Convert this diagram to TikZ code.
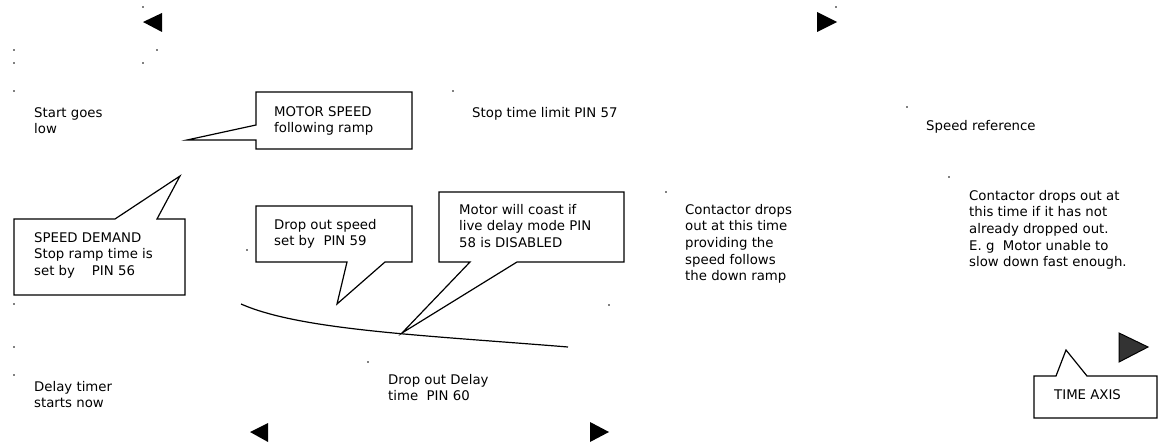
\documentclass[tikz,border=0pt]{standalone}
\usepackage{fontspec}
\setmainfont{DejaVu Sans}
\usepackage{tikz}
\usetikzlibrary{positioning}

\begin{document}
\begin{tikzpicture}[x=1pt, y=-1pt,
    lbl/.style={anchor=north west, inner sep=0pt, align=left, font=\fontsize{13.3}{16.6}\selectfont},
    callout/.style={draw, line width=1.2pt, fill=white, line join=miter},
    marker/.style={fill=black},
    speck/.style={fill=black, draw=none}]
  \useasboundingbox (0,0) rectangle (1158,443);

  \foreach \px/\py in {143/7, 14/50, 14/63, 157/50, 143/63, 14/91, 453/91, 836/7, 907/107,
                       949/177, 14/304, 14/347, 14/375, 247/250, 666/192, 609/305, 368/362}
    \fill[speck] (\px,\py) circle (0.9);

  \fill[marker] (143,22) -- (162,13) -- (162,32) -- cycle;
  \fill[marker] (837,22) -- (817,12) -- (817,32) -- cycle;
  \fill[marker] (250,432) -- (268,423) -- (268,442) -- cycle;
  \fill[marker] (609,432) -- (590,422) -- (590,442) -- cycle;
  \filldraw[fill=black!80, draw=black, line width=1pt] (1148,347) -- (1119,333) -- (1119,362) -- cycle;

  \draw[line width=1.2pt] (241,304) .. controls (300,330) and (420,335) .. (568,347);

  \draw[callout] (256,92) -- (412,92) -- (412,149) -- (256,149) -- (256,140) -- (187,140) -- (256,125) -- cycle;
  \draw[callout] (14,219) -- (115,219) -- (180,176) -- (157,219) -- (185,219) -- (185,295) -- (14,295) -- cycle;
  \draw[callout] (256,206) -- (412,206) -- (412,262) -- (385,262) -- (337,304) -- (347,262) -- (256,262) -- cycle;
  \draw[callout] (439,192) -- (624,192) -- (624,262) -- (517,262) -- (402,333) -- (470,262) -- (439,262) -- cycle;
  \draw[callout] (1034,376) -- (1056,376) -- (1066,350) -- (1087,376) -- (1157,376) -- (1157,418) -- (1034,418) -- cycle;

  \node[lbl] (start) at (34,107) {Start goes\\low};
  \node[lbl] (motor) at (274,106) {MOTOR SPEED\\following ramp};
  \node[lbl] (limit) at (472,107) {Stop time limit PIN 57};
  \node[lbl] (ref) at (926,120) {Speed reference};
  \node[lbl] (contlate) at (969,190) {Contactor drops out at\\this time if it has not\\already dropped out.\\E. g~~Motor unable to\\slow down fast enough.};
  \node[lbl] (demand) at (34,232) {SPEED DEMAND\\Stop ramp time is\\set by~~~~PIN 56};
  \node[lbl] (dropspeed) at (274,219) {Drop out speed\\set by~~PIN 59};
  \node[lbl] (coast) at (459,204) {Motor will coast if\\live delay mode PIN\\58 is DISABLED};
  \node[lbl] (contramp) at (685,204) {Contactor drops\\out at this time\\providing the\\speed follows\\the down ramp};
  \node[lbl] (delay) at (34,381) {Delay timer\\starts now};
  \node[lbl] (dropdelay) at (388,374) {Drop out Delay\\time~~PIN 60};
  \node[lbl] (axis) at (1054,389) {TIME AXIS};
\end{tikzpicture}
\end{document}
